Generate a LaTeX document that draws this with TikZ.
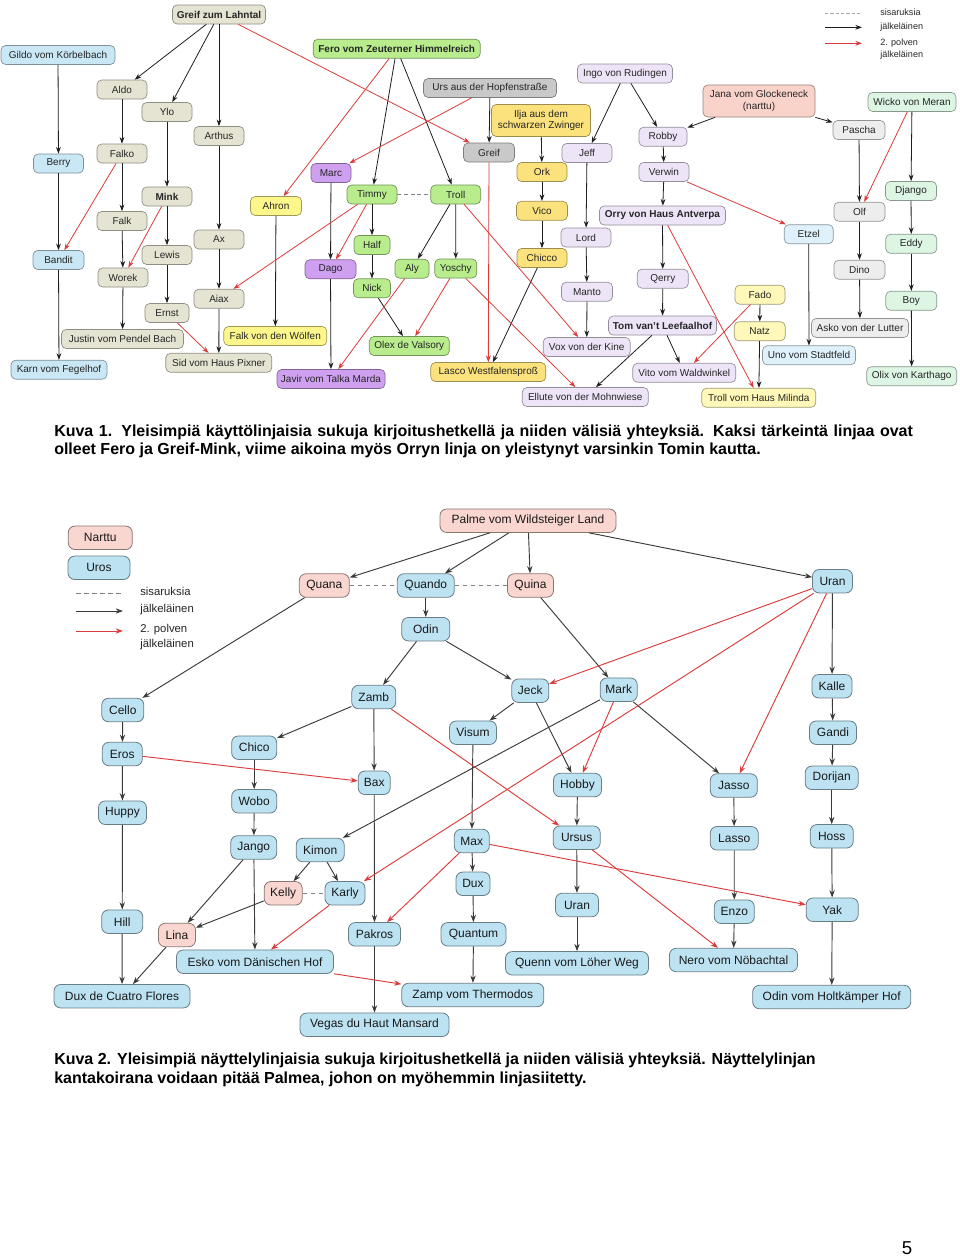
\documentclass[tikz,border=0pt]{standalone}
\usepackage{fontspec}
\setmainfont{Liberation Sans}
\usetikzlibrary{arrows.meta}
\definecolor{cB}{HTML}{E5E4D3}
\definecolor{cBl}{HTML}{C9E7F5}
\definecolor{cLB}{HTML}{DFF1FB}
\definecolor{cG}{HTML}{B8EC8C}
\definecolor{cM}{HTML}{DDF5E3}
\definecolor{cP}{HTML}{CFA0F0}
\definecolor{cL}{HTML}{EEE4F8}
\definecolor{cGr}{HTML}{C9C9C9}
\definecolor{cLG}{HTML}{EDEDED}
\definecolor{cY}{HTML}{FDF68A}
\definecolor{cPY}{HTML}{FFF8B8}
\definecolor{cGo}{HTML}{FBE27C}
\definecolor{cS}{HTML}{F9D3CA}
\definecolor{cU}{HTML}{BDE3F3}
\definecolor{cN}{HTML}{FAD6D1}
\definecolor{cRed}{HTML}{DC3B3B}
\definecolor{cDk}{HTML}{3A3A3A}
\tikzset{
 un/.style={draw=#1!62!black, fill=#1, rounded corners=3.5pt, line width=0.5pt, inner xsep=1.5pt, inner ysep=0.5pt, minimum height=14.25pt, font=\fontsize{7.5}{8.6}\selectfont, align=center, text=black!85},
 ln/.style={draw=#1!55!black, fill=#1, rounded corners=5pt, line width=0.6pt, inner xsep=2pt, inner ysep=0.5pt, minimum height=17.6pt, font=\fontsize{9}{10}\selectfont, text=black!90},
 wd/.style={minimum width=#1*0.75pt},
 blk/.style={draw=black!88, line width=0.6pt, -{Stealth[length=5pt,width=3.6pt]}},
 rd/.style={draw=cRed, line width=0.6pt, -{Stealth[length=5pt,width=3.6pt]}},
 sib/.style={draw=gray, dash pattern=on 3pt off 2pt, line width=0.6pt},
 lblk/.style={draw=cDk, line width=0.7pt, -{Stealth[length=5.5pt,width=4pt]}},
 lrd/.style={draw=cRed, line width=0.7pt, -{Stealth[length=5.5pt,width=4pt]}},
 lsib/.style={draw=gray, dash pattern=on 3.5pt off 2.5pt, line width=0.7pt},
 captxt/.style={anchor=base west, inner sep=0pt, font=\fontsize{12}{14}\selectfont\bfseries},
 leg/.style={anchor=west, inner sep=0pt, font=\fontsize{6.8}{8}\selectfont, text=black!85},
 lleg/.style={anchor=west, inner sep=0pt, font=\fontsize{8.5}{10}\selectfont, text=black!85},
}
\newcommand\UN[6]{\node[un=#1,wd=#5] (#2) at (#3,#4) {#6};}
\newcommand\LN[6]{\node[ln=#1,wd=#5] (#2) at (#3,#4) {#6};}
\begin{document}
\begin{tikzpicture}[x=0.75pt,y=-0.75pt]
\fill[white] (0,0) rectangle (960,1257);
\useasboundingbox (0,0) rectangle (960,1257);
% ---------------- upper diagram ----------------
\UN{cB}{gzl}{219}{14.5}{93}{\textbf{Greif zum Lahntal}}
\UN{cBl}{gildo}{58}{55}{114}{Gildo vom Körbelbach}
\UN{cB}{aldo}{122}{89.5}{50}{Aldo}
\UN{cB}{ylo}{167}{112}{50}{Ylo}
\UN{cB}{arthus}{219}{136}{50}{Arthus}
\UN{cB}{falko}{122}{153.5}{50}{Falko}
\UN{cBl}{berry}{58.5}{163.5}{50}{Berry}
\UN{cB}{mink}{167}{196.5}{50}{\textbf{Mink}}
\UN{cY}{ahron}{276}{206}{51}{Ahron}
\UN{cP}{marc}{331}{173}{40}{Marc}
\UN{cG}{fero}{396.7}{48.7}{167}{\textbf{Fero vom Zeuterner Himmelreich}}
\UN{cGr}{urs}{490}{88}{133}{Urs aus der Hopfenstraße}
\node[un=cGo,wd=99,minimum height=24pt] (ilja) at (541,120.5) {Ilja aus dem\\schwarzen Zwinger};
\UN{cGr}{greif}{489}{152.5}{51}{Greif}
\UN{cGo}{ork}{542}{172}{50}{Ork}
\UN{cL}{jeff}{587}{153}{50}{Jeff}
\UN{cG}{timmy}{372}{194.5}{50}{Timmy}
\UN{cG}{troll}{455.7}{194.5}{50}{Troll}
\UN{cL}{ingo}{625}{73.5}{95}{Ingo von Rudingen}
\node[un=cS,wd=112,minimum height=24pt] (jana) at (759,101) {Jana vom Glockeneck\\(narttu)};
\UN{cL}{robby}{663}{136.7}{48}{Robby}
\UN{cL}{verwin}{664}{172}{50}{Verwin}
\UN{cLG}{pascha}{859}{130}{52}{Pascha}
\UN{cM}{wicko}{912}{102}{88}{Wicko von Meran}
\UN{cM}{django}{911}{191}{51}{Django}
\UN{cLG}{olf}{859.5}{211.7}{51}{Olf}
\UN{cB}{falk}{122}{221}{50}{Falk}
\UN{cBl}{bandit}{58.5}{260}{51}{Bandit}
\UN{cB}{lewis}{167}{255}{50}{Lewis}
\UN{cB}{ax}{219}{239.5}{50}{Ax}
\UN{cB}{worek}{123}{277.5}{50}{Worek}
\UN{cB}{aiax}{219}{298.7}{50}{Aiax}
\UN{cB}{ernst}{167}{313}{44}{Ernst}
\UN{cB}{justin}{122.5}{339}{122}{Justin vom Pendel Bach}
\UN{cY}{falkw}{275.3}{336}{103}{Falk von den Wölfen}
\UN{cB}{sid}{218.8}{362.8}{106}{Sid vom Haus Pixner}
\UN{cBl}{karn}{59}{369.7}{96}{Karn vom Fegelhof}
\UN{cP}{javir}{331}{379}{108}{Javir vom Talka Marda}
\UN{cP}{dago}{330.5}{269.3}{51}{Dago}
\UN{cG}{half}{372}{245}{36}{Half}
\UN{cG}{nick}{372}{288.3}{37}{Nick}
\UN{cG}{aly}{412}{268.7}{34}{Aly}
\UN{cG}{yoschy}{455.8}{268.5}{42}{Yoschy}
\UN{cGo}{vico}{542}{210.8}{51}{Vico}
\UN{cGo}{chicco}{542}{258}{50}{Chicco}
\UN{cL}{lord}{586}{237.5}{50}{Lord}
\UN{cL}{manto}{587}{291.7}{51}{Manto}
\UN{cG}{olex}{409.3}{346}{80}{Olex de Valsory}
\UN{cGo}{lasco}{488.3}{372}{115}{Lasco Westfalensproß}
\UN{cL}{vox}{586.7}{347}{87}{Vox von der Kine}
\UN{cL}{ellute}{585.3}{397}{126}{Ellute von der Mohnwiese}
\UN{cL}{orry}{662.5}{215.5}{126}{\textbf{Orry von Haus Antverpa}}
\UN{cL}{tom}{662.5}{325.5}{108}{\textbf{Tom van't Leefaalhof}}
\UN{cL}{qerry}{662.8}{278.7}{51}{Qerry}
\UN{cL}{vito}{684.3}{372.8}{103}{Vito vom Waldwinkel}
\UN{cPY}{trollm}{758.8}{397.8}{114}{Troll vom Haus Milinda}
\UN{cPY}{fado}{760}{294.7}{50}{Fado}
\UN{cPY}{natz}{759.7}{331.3}{51}{Natz}
\UN{cLB}{etzel}{808.7}{234.2}{49}{Etzel}
\UN{cLB}{uno}{809}{355.3}{93}{Uno vom Stadtfeld}
\UN{cLG}{dino}{859.5}{269.7}{51}{Dino}
\UN{cLG}{asko}{860}{328}{97}{Asko von der Lutter}
\UN{cM}{eddy}{911.3}{243.8}{51}{Eddy}
\UN{cM}{boy}{911.3}{300.8}{51}{Boy}
\UN{cM}{olix}{911.7}{376.2}{90}{Olix von Karthago}
\foreach \a/\b in {gzl/aldo,gzl/ylo,gzl/arthus,gildo/berry,berry/bandit,bandit/karn,aldo/falko,falko/falk,falk/worek,worek/justin,ylo/mink,mink/lewis,lewis/ernst,arthus/ax,ax/aiax,aiax/sid,ahron/falkw,fero/timmy,fero/troll,marc/dago,dago/javir,timmy/half,half/nick,nick/olex,troll/aly,troll/yoschy,urs/greif,ilja/ork,ork/vico,vico/chicco,chicco/lasco,ingo/jeff,ingo/robby,jeff/lord,lord/manto,manto/vox,jana/robby,jana/pascha,robby/verwin,verwin/orry,orry/qerry,qerry/tom,tom/vito,tom/ellute,fado/natz,natz/trollm,etzel/uno,pascha/olf,olf/dino,dino/asko,wicko/django,django/eddy,eddy/boy,boy/olix}
 \draw[blk] (\a) -- (\b);
\foreach \a/\b in {gzl/greif,fero/ahron,urs/marc,falko/bandit,mink/worek,timmy/dago,timmy/aiax,aly/javir,yoschy/olex,yoschy/ellute,troll/vox,greif/lasco,ernst/sid,verwin/etzel,orry/trollm,fado/vito,wicko/olf}
 \draw[rd] (\a) -- (\b);
\draw[sib] (timmy) -- (troll);
% upper legend
\coordinate (ua1) at (825,13.3); \coordinate (ua2) at (862,13.3);
\coordinate (ub1) at (825,27.3); \coordinate (ub2) at (862,27.3);
\coordinate (uc1) at (825,43.3); \coordinate (uc2) at (862,43.3);
\draw[draw=gray!70, dash pattern=on 2.5pt off 1.5pt, line width=0.5pt] (ua1) -- (ua2);
\draw[blk] (ub1) -- (ub2);
\draw[rd] (uc1) -- (uc2);
\node[leg] (ut1) at (880,12.5) {sisaruksia};
\node[leg] (ut2) at (880,27) {jälkeläinen};
\node[leg] (ut3) at (880,43) {2. polven};
\node[leg] (ut4) at (880,55.5) {jälkeläinen};
% caption 1
\node[captxt] (c1a) at (54,436.5) {\makebox[644pt][s]{Kuva 1. Yleisimpiä käyttölinjaisia sukuja kirjoitushetkellä ja niiden välisiä yhteyksiä. Kaksi tärkeintä linjaa ovat}};
\node[captxt] (c1b) at (54,454.5) {olleet Fero ja Greif-Mink, viime aikoina myös Orryn linja on yleistynyt varsinkin Tomin kautta.};
% ---------------- lower diagram ----------------
\LN{cN}{narttu}{100.3}{537.8}{64}{Narttu}
\LN{cU}{uros}{99}{567.8}{62}{Uros}
\LN{cN}{palme}{528}{520.7}{176}{Palme vom Wildsteiger Land}
\LN{cN}{quana}{324.3}{585.5}{50}{Quana}
\LN{cU}{quando}{425.8}{585.5}{57}{Quando}
\LN{cN}{quina}{530.5}{585.5}{46}{Quina}
\LN{cU}{uran}{832.5}{581.2}{40}{Uran}
\LN{cU}{odin}{425.8}{629.2}{48}{Odin}
\LN{cU}{zamb}{373.8}{697}{44}{Zamb}
\LN{cU}{jeck}{530.3}{690.7}{37}{Jeck}
\LN{cU}{mark}{618.7}{689.7}{37}{Mark}
\LN{cU}{visum}{473}{732.7}{47}{Visum}
\LN{cU}{cello}{122.8}{710}{42}{Cello}
\LN{cU}{eros}{122.3}{754}{40}{Eros}
\LN{cU}{chico}{254.2}{747.7}{45}{Chico}
\LN{cU}{kalle}{832}{686.2}{40}{Kalle}
\LN{cU}{gandi}{833}{732.7}{47}{Gandi}
\LN{cU}{dorijan}{831.7}{777.8}{53}{Dorijan}
\LN{cU}{jasso}{733.8}{785.5}{47}{Jasso}
\LN{cU}{bax}{374.2}{782.8}{32}{Bax}
\LN{cU}{hobby}{577.5}{785}{48}{Hobby}
\LN{cU}{wobo}{254.2}{801.3}{45}{Wobo}
\LN{cU}{huppy}{122.5}{812.7}{48}{Huppy}
\LN{cU}{jango}{253.8}{847.5}{46}{Jango}
\LN{cU}{kimon}{320.2}{850}{48}{Kimon}
\LN{cU}{max}{471.8}{841}{35}{Max}
\LN{cU}{ursus}{576.7}{837.7}{47}{Ursus}
\LN{cU}{lasso}{734.2}{838.3}{48}{Lasso}
\LN{cU}{hoss}{831.7}{836.3}{43}{Hoss}
\LN{cN}{kelly}{283.2}{893.3}{38}{Kelly}
\LN{cU}{karly}{345}{893.3}{40}{Karly}
\LN{cU}{dux}{473}{883.8}{34}{Dux}
\LN{cU}{uran2}{577}{905}{43}{Uran}
\LN{cU}{enzo}{734.3}{911.7}{40}{Enzo}
\LN{cU}{yak}{832.2}{909.7}{52}{Yak}
\LN{cU}{hill}{122.2}{921.7}{41}{Hill}
\LN{cN}{lina}{177}{935}{37}{Lina}
\LN{cU}{pakros}{374.5}{934.3}{52}{Pakros}
\LN{cU}{quantum}{473.5}{934.3}{65}{Quantum}
\LN{cU}{esko}{255}{961.7}{157}{Esko vom Dänischen Hof}
\LN{cU}{quenn}{577}{963.3}{143}{Quenn vom Löher Weg}
\LN{cU}{nero}{733.5}{960}{128}{Nero vom Nöbachtal}
\LN{cU}{dcf}{122}{996.2}{136}{Dux de Cuatro Flores}
\LN{cU}{zamp}{472.8}{995}{142}{Zamp vom Thermodos}
\LN{cU}{odinh}{831.7}{997}{158}{Odin vom Holtkämper Hof}
\LN{cU}{vegas}{374.5}{1024.7}{149}{Vegas du Haut Mansard}
\foreach \a/\b in {palme/quana,palme/quando,palme/quina,palme/uran,quana/cello,quando/odin,quina/mark,odin/zamb,odin/jeck,zamb/chico,zamb/bax,jeck/visum,jeck/hobby,mark/jasso,mark/kimon,uran/kalle,kalle/gandi,gandi/dorijan,dorijan/hoss,hoss/yak,yak/odinh,cello/eros,eros/huppy,huppy/hill,hill/dcf,chico/wobo,wobo/jango,jango/esko,jango/lina,kimon/kelly,kimon/karly,kelly/lina,lina/dcf,bax/pakros,pakros/vegas,visum/max,max/dux,dux/quantum,quantum/zamp,hobby/ursus,ursus/uran2,uran2/quenn,jasso/lasso,lasso/enzo,enzo/nero}
 \draw[lblk] (\a) -- (\b);
\foreach \a/\b in {uran/jeck,uran/karly,uran/jasso,mark/hobby,eros/bax,zamb/ursus,max/pakros,max/yak,ursus/nero,karly/esko,esko/zamp}
 \draw[lrd] (\a) -- (\b);
\foreach \a/\b in {quana/quando,quando/quina,kelly/karly}
 \draw[lsib] (\a) -- (\b);
% lower legend
\coordinate (la1) at (76,593.3); \coordinate (la2) at (123,593.3);
\coordinate (lb1) at (76,611); \coordinate (lb2) at (123,611);
\coordinate (lc1) at (76,631); \coordinate (lc2) at (123,631);
\draw[lsib] (la1) -- (la2);
\draw[lblk] (lb1) -- (lb2);
\draw[lrd] (lc1) -- (lc2);
\node[lleg] (lt1) at (140,591) {sisaruksia};
\node[lleg] (lt2) at (140,610) {jälkeläinen};
\node[lleg] (lt3) at (140,629.5) {2. polven};
\node[lleg] (lt4) at (140,644.5) {jälkeläinen};
% caption 2
\node[captxt] (c2a) at (54,1064.5) {Kuva 2. Yleisimpiä näyttelylinjaisia sukuja kirjoitushetkellä ja niiden välisiä yhteyksiä. Näyttelylinjan};
\node[captxt] (c2b) at (54,1083.5) {kantakoirana voidaan pitää Palmea, johon on myöhemmin linjasiitetty.};
\node[anchor=base, inner sep=0pt, font=\fontsize{14}{16}\selectfont] (pg) at (907,1254) {5};
\end{tikzpicture}
\end{document}
